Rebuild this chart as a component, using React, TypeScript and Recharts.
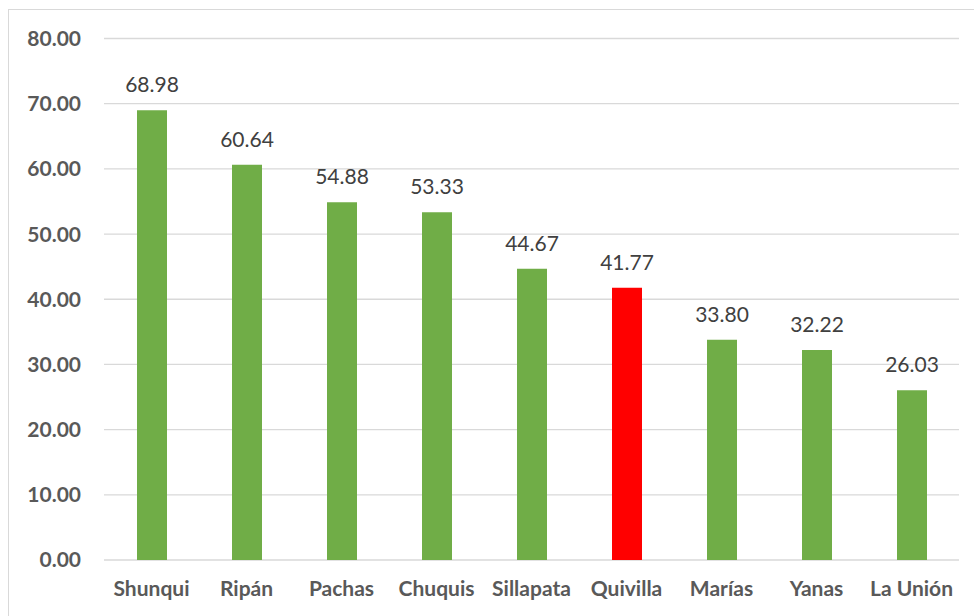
import React from "react";
import { BarChart, Bar, XAxis, YAxis, CartesianGrid, LabelList, Cell } from "recharts";

const categories = ["Shunqui", "Ripán", "Pachas", "Chuquis", "Sillapata", "Quivilla", "Marías", "Yanas", "La Unión"];
const values = [68.98, 60.64, 54.88, 53.33, 44.67, 41.77, 33.8, 32.22, 26.03];
const highlighted = ["Quivilla"];
const yTicks = [0, 10, 20, 30, 40, 50, 60, 70, 80];

const data = categories.map((name, i) => ({ name, value: values[i] }));

const FONT = "Lato, 'Open Sans', sans-serif";

export default function App() {
  return (
    <div
      style={{
        position: "fixed",
        left: 8,
        top: 9,
        width: 966,
        height: 607,
        borderTop: "1px solid #d9d9d9",
        borderLeft: "1px solid #d9d9d9",
        background: "#ffffff",
        boxSizing: "border-box",
      }}
    >
      <BarChart
        width={965}
        height={606}
        data={data}
        margin={{ top: 28.5, right: 15, bottom: 26, left: 0 }}
        barCategoryGap={0}
      >
        <CartesianGrid vertical={false} stroke="#d9d9d9" strokeWidth={1.3} />
        <XAxis
          dataKey="name"
          height={30}
          axisLine={false}
          tickLine={false}
          tickSize={0}
          tickMargin={21}
          interval={0}
          tick={{ fill: "#595959", fontSize: 21, fontWeight: 700, fontFamily: FONT }}
        />
        <YAxis
          width={95}
          domain={[0, 80]}
          ticks={yTicks}
          axisLine={false}
          tickLine={false}
          tickSize={0}
          tickMargin={23}
          tickFormatter={(v: number) => v.toFixed(2)}
          tick={{ fill: "#595959", fontSize: 21, fontWeight: 700, fontFamily: FONT }}
        />
        <Bar dataKey="value" barSize={30} isAnimationActive={false}>
          {data.map((d) => (
            <Cell key={d.name} fill={highlighted.includes(d.name) ? "#ff0000" : "#70ad47"} />
          ))}
          <LabelList
            dataKey="value"
            position="top"
            offset={18}
            formatter={(v: number) => v.toFixed(2)}
            style={{ fill: "#404040", fontSize: 21, fontFamily: FONT }}
          />
        </Bar>
      </BarChart>
    </div>
  );
}
